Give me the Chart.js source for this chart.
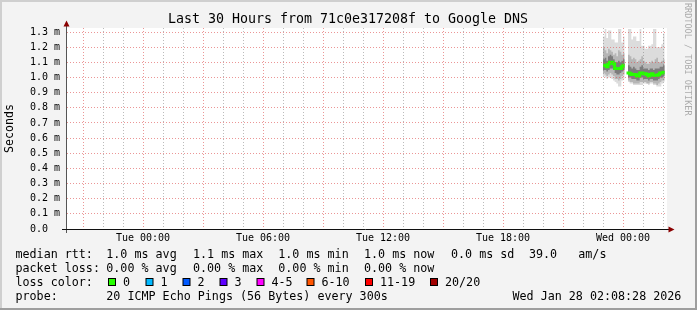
<!DOCTYPE html>
<html><head><meta charset="utf-8">
<script src="https://cdn.jsdelivr.net/npm/chart.js@4/dist/chart.umd.min.js"></script>
<style>html,body{margin:0;padding:0;background:#f3f3f3;}canvas{display:block;}</style>
</head><body>
<canvas id="c" width="697" height="310"></canvas>
<script>
// ---- data (ms) ----
const sampleTimes = ['23:00','23:05','23:10','23:15','23:20','23:25','23:30','23:35','23:40','23:45','23:50','23:55',
  '00:00','00:05','00:10','00:15','00:20','00:25','00:30','00:35','00:40','00:45','00:50','00:55',
  '01:00','01:05','01:10','01:15','01:20','01:25','01:30','01:35','01:40','01:45','01:50','01:55','02:00','02:05'];
const medianRtt = [1.08,1.08,1.08,1.07,1.09,1.10,1.10,1.09,1.06,1.06,1.06,1.06,1.07,1.08, null,
  1.04,1.03,1.025,1.02,1.02,1.02,1.01,1.01,1.03,1.03,1.025,1.025,1.02,1.01,1.02,1.025,1.015,1.015,1.015,1.02,1.03,1.03,1.035];
const smokeMax = [1.26,1.27,1.32,1.26,1.31,1.31,1.25,1.25,1.23,1.23,1.32,1.32,1.23,1.27, null,
  1.31,1.32,1.32,1.25,1.27,1.27,1.24,1.24,1.32,1.21,1.21,1.19,1.19,1.21,1.21,1.22,1.32,1.32,1.20,1.20,1.20,1.22,1.29];
const smokeP90 = [1.17,1.20,1.18,1.16,1.19,1.18,1.17,1.15,1.16,1.14,1.18,1.17,1.15,1.16, null,
  1.13,1.15,1.14,1.12,1.13,1.12,1.10,1.11,1.12,1.14,1.11,1.10,1.09,1.09,1.10,1.11,1.10,1.12,1.13,1.10,1.10,1.11,1.12];
const smokeP75 = [1.12,1.12,1.13,1.11,1.14,1.15,1.14,1.12,1.10,1.10,1.11,1.10,1.11,1.12, null,
  1.08,1.08,1.07,1.06,1.07,1.06,1.05,1.05,1.07,1.08,1.06,1.06,1.06,1.05,1.06,1.06,1.05,1.06,1.06,1.06,1.07,1.07,1.08];
const smokeP25 = [1.05,1.05,1.05,1.04,1.05,1.06,1.06,1.05,1.03,1.02,1.02,1.03,1.04,1.05, null,
  1.01,1.00,1.00,0.99,0.99,0.99,0.98,0.98,1.00,1.00,0.99,0.99,0.99,0.98,0.99,0.99,0.98,0.98,0.98,0.99,1.00,1.00,1.01];
const smokeP10 = [1.03,1.03,1.02,1.01,1.02,1.03,1.02,1.01,0.99,0.99,0.98,0.99,1.01,1.02, null,
  0.99,0.98,0.97,0.97,0.96,0.96,0.96,0.96,0.97,0.97,0.97,0.97,0.96,0.96,0.97,0.97,0.96,0.96,0.95,0.96,0.97,0.98,0.98];
const smokeMin = [1.01,1.01,1.00,0.99,1.00,1.00,0.99,0.98,0.97,0.96,0.94,0.94,0.98,0.99, null,
  0.98,0.97,0.96,0.96,0.95,0.95,0.95,0.95,0.95,0.95,0.96,0.96,0.96,0.95,0.96,0.96,0.95,0.95,0.94,0.94,0.94,0.96,0.97];
const xLabelHours = [0,6,12,18,24];
const xLabelText = ['Tue 00:00','Tue 06:00','Tue 12:00','Tue 18:00','Wed 00:00'];
const lossLabels = ['0','1','2','3','4-5','6-10','11-19','20/20'];
const lossColors = ['#26ff00','#00b8ff','#0059ff','#5e00ff','#ff00ff','#ff5500','#ff0000','#a10000'];
const titleText = 'Last 30 Hours from 71c0e317208f to Google DNS';
const rttLegend = ['median rtt:', '1.0 ms avg', '1.1 ms max', '1.0 ms min', '1.0 ms now', '0.0 ms sd', '39.0', 'am/s'];
const lossLegend = ['packet loss:', '0.00 % avg', '0.00 % max', '0.00 % min', '0.00 % now'];
const probeLegend = ['probe:', '20 ICMP Echo Pings (56 Bytes) every 300s'];
const dateText = 'Wed Jan 28 02:08:28 2026';
const watermark = 'RRDTOOL / TOBI OETIKER';

// hours relative to Tue 00:00
const hours = sampleTimes.map(s => { const [h,m] = s.split(':').map(Number); return (h < 12 ? h + 24 : h) + m/60; });
const pts = arr => arr.map((v,i) => ({x: hours[i], y: v}));
const MONO = '"DejaVu Sans Mono"';

const chrome = {
  id: 'chrome',
  beforeDraw(chart) {
    const {ctx, chartArea: a} = chart;
    ctx.save();
    ctx.fillStyle = '#f3f3f3'; ctx.fillRect(0,0,697,310);
    ctx.fillStyle = '#cfcfcf'; ctx.fillRect(0,0,697,2); ctx.fillRect(0,0,2,310);
    ctx.fillStyle = '#9e9e9e'; ctx.fillRect(0,308,697,2); ctx.fillRect(695,0,2,310);
    ctx.fillStyle = '#ffffff'; ctx.fillRect(a.left, a.top, a.right - a.left, a.bottom - a.top);
    ctx.restore();
  },
  afterDraw(chart) {
    const {ctx, chartArea: a} = chart;
    ctx.save();
    // axes
    ctx.lineWidth = 1;
    ctx.strokeStyle = '#555';
    ctx.beginPath(); ctx.moveTo(a.left - 0.5, a.bottom + 4); ctx.lineTo(a.left - 0.5, 24); ctx.stroke();
    ctx.strokeStyle = '#101010';
    ctx.beginPath(); ctx.moveTo(a.left - 5, a.bottom + 0.5); ctx.lineTo(a.right + 2, a.bottom + 0.5); ctx.stroke();
    ctx.fillStyle = '#8a0000';
    ctx.beginPath(); ctx.moveTo(a.left - 0.5, 20.5); ctx.lineTo(a.left - 3.5, 26.5); ctx.lineTo(a.left + 2.5, 26.5); ctx.closePath(); ctx.fill();
    ctx.beginPath(); ctx.moveTo(a.right + 7.5, a.bottom + 0.5); ctx.lineTo(a.right + 1.5, a.bottom - 2.5); ctx.lineTo(a.right + 1.5, a.bottom + 3.5); ctx.closePath(); ctx.fill();
    // title
    ctx.fillStyle = '#000';
    ctx.font = '13.3px ' + MONO; ctx.textAlign = 'center'; ctx.textBaseline = 'alphabetic';
    ctx.fillText(titleText, 348, 23);
    // y label
    ctx.save();
    ctx.font = '11.6px ' + MONO; ctx.translate(10, (a.top + a.bottom) / 2); ctx.rotate(-Math.PI/2);
    ctx.textBaseline = 'middle'; ctx.fillText('Seconds', 0, 0);
    ctx.restore();
    // legend
    ctx.font = '11.7px ' + MONO; ctx.textAlign = 'left'; ctx.textBaseline = 'alphabetic';
    const base = [258, 272, 286, 300];
    const colX = [15.5, 106.3, 193, 278.3, 364, 451, 529, 578.3];
    rttLegend.forEach((t,i) => ctx.fillText(t, colX[i], base[0]));
    lossLegend.forEach((t,i) => ctx.fillText(t, colX[i], base[1]));
    ctx.fillText('loss color:', colX[0], base[2]);
    probeLegend.forEach((t,i) => ctx.fillText(t, colX[i], base[3]));
    ctx.fillText(dateText, 512.5, base[3]);
    const boxX = [108, 145.5, 182.5, 219.5, 256.5, 306.5, 365, 430];
    lossLabels.forEach((lab, i) => {
      ctx.fillStyle = lossColors[i];
      ctx.fillRect(boxX[i] + 0.5, 278.5, 7, 7);
      ctx.strokeStyle = '#000'; ctx.strokeRect(boxX[i] + 0.5, 278.5, 7, 7);
      ctx.fillStyle = '#000';
      ctx.fillText(lab, boxX[i] + 15, base[2]);
    });
    // watermark
    ctx.save();
    ctx.font = '8.5px ' + MONO; ctx.fillStyle = '#ababab';
    ctx.translate(687.5, 3); ctx.rotate(Math.PI/2);
    ctx.textAlign = 'left'; ctx.textBaseline = 'middle';
    ctx.fillText(watermark, 0, 0);
    ctx.restore();
    ctx.restore();
  }
};

const band = (data, target, color, order) => ({
  data: pts(data), stepped: 'after', pointRadius: 0, borderWidth: 1,
  borderColor: 'rgba(0,0,0,0)', backgroundColor: color,
  fill: target === null ? false : {target: target}, order: order, spanGaps: false
});

new Chart(document.getElementById('c'), {
  type: 'line',
  data: { datasets: [
    band(smokeMin, null, 'rgba(0,0,0,0)', 20),
    band(smokeMax, 0, '#dcdcdc', 10),
    band(smokeP10, null, 'rgba(0,0,0,0)', 20),
    band(smokeP90, 2, '#b6b6b6', 8),
    band(smokeP25, null, 'rgba(0,0,0,0)', 20),
    band(smokeP75, 4, '#7c7c7c', 6),
    { data: pts(medianRtt), stepped: 'after', pointRadius: 0, borderWidth: 3,
      borderColor: '#26ff00', fill: false, order: 0, spanGaps: false }
  ]},
  options: {
    responsive: false, animation: false, devicePixelRatio: 1, events: [],
    layout: { padding: { left: 0, right: 30, top: 28, bottom: 0 } },
    plugins: { legend: { display: false }, tooltip: { enabled: false } },
    scales: {
      x: {
        type: 'linear', min: -3.8, max: 26.2,
        afterFit: s => { s.height = 81; },
        afterBuildTicks: s => {
          const t = [];
          for (let h = Math.ceil(s.min); h <= Math.floor(s.max); h++) t.push({ value: h });
          s.ticks = t;
        },
        border: { display: false, dash: [1,2] },
        grid: { z: 1, drawTicks: false, lineWidth: 1,
          color: c => (c.tick && Math.round(c.tick.value) % 3 === 0) ? 'rgba(222,80,80,0.6)' : 'rgba(120,120,120,0.5)' },
        ticks: { autoSkip: false, maxRotation: 0, padding: 3,
          color: '#000', font: { family: 'DejaVu Sans Mono', size: 10 },
          callback: v => { const i = xLabelHours.indexOf(Math.round(v)); return i >= 0 ? xLabelText[i] : ''; } }
      },
      y: {
        min: 0, max: 1.3265,
        afterFit: s => { s.width = 67; },
        border: { display: false, dash: [1,2] },
        grid: { z: 1, drawTicks: false, lineWidth: 1, color: 'rgba(222,80,80,0.6)' },
        ticks: { stepSize: 0.1, includeBounds: false, padding: 7, color: '#000',
          font: { family: 'DejaVu Sans Mono', size: 10 },
          callback: v => Math.abs(v) < 1e-9 ? '0.0  ' : v.toFixed(1) + ' m' }
      }
    }
  },
  plugins: [chrome]
});
</script>
</body></html>
